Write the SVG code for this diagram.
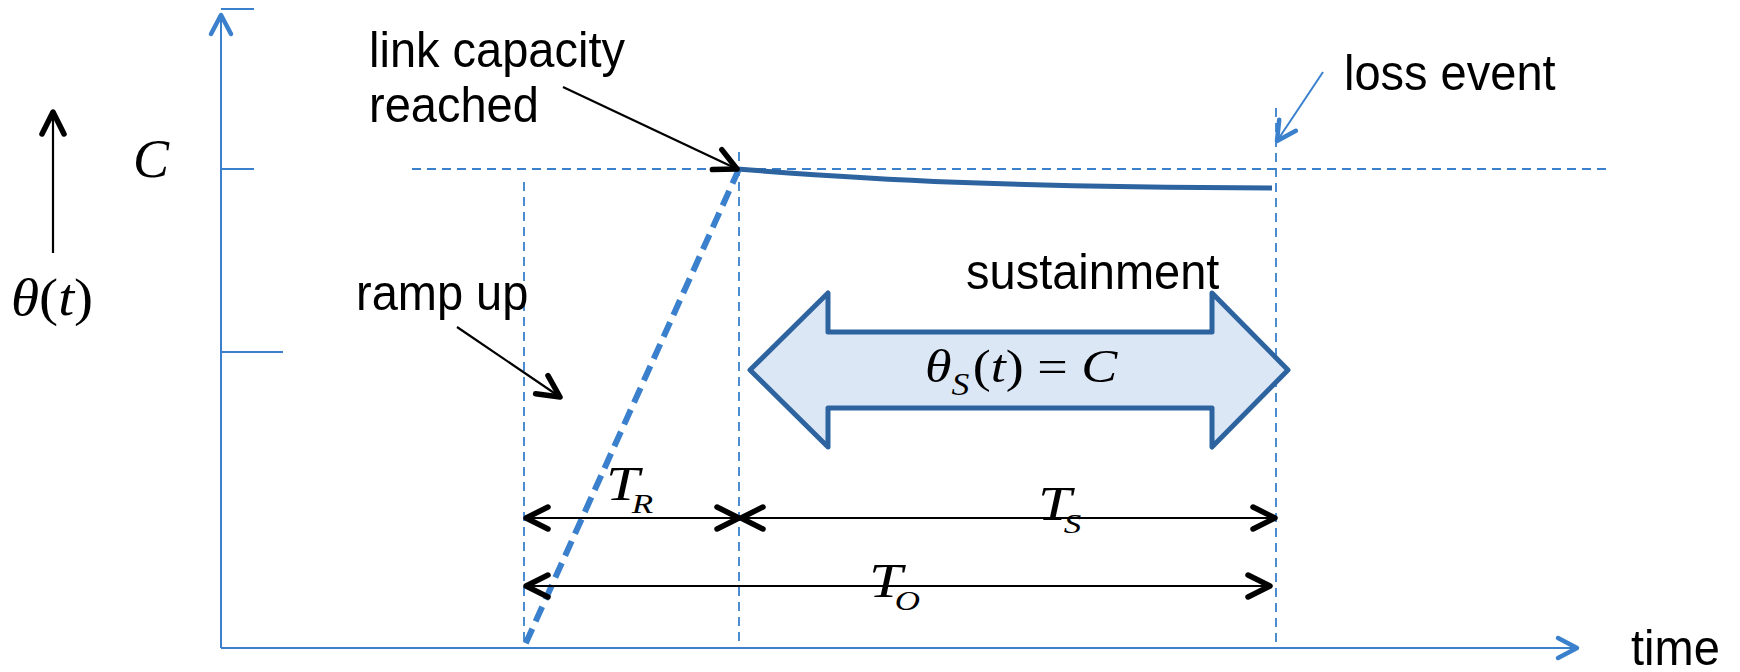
<svg xmlns="http://www.w3.org/2000/svg" width="1740" height="672" viewBox="0 0 1740 672">
<style>
.sans{font-family:"Liberation Sans",Arial,sans-serif;font-size:50px;fill:#000}
.math{font-family:"Liberation Serif","Times New Roman",serif;fill:#000}
.it{font-style:italic}
.axis{stroke:#3A80CC;stroke-width:2;fill:none}
.guide{stroke:#3A80CC;stroke-width:1.8;stroke-dasharray:9 6;fill:none}
.ramp{stroke:#3A80CC;stroke-width:6;stroke-dasharray:16 8;fill:none}
.curve{stroke:#2D64A0;stroke-width:5;fill:none}
.dim{stroke:#000;stroke-width:2.2;fill:none}
.pointer{stroke:#000;stroke-width:2.2;fill:none}
.bluepointer{stroke:#3A80CC;stroke-width:2;fill:none}
.big{fill:#DCE7F5;stroke:#2D64A0;stroke-width:5;stroke-linejoin:round}
</style>
<defs>
<marker id="chevK" markerUnits="userSpaceOnUse" markerWidth="40" markerHeight="40" viewBox="-30 -20 40 40" refX="0" refY="0" orient="auto-start-reverse" overflow="visible">
<path d="M-22,-11 L0,0 L-22,11" fill="none" stroke="#000" stroke-width="5.5" stroke-linecap="round" stroke-linejoin="round"/>
</marker>
<marker id="chevB" markerUnits="userSpaceOnUse" markerWidth="40" markerHeight="40" viewBox="-30 -20 40 40" refX="0" refY="0" orient="auto-start-reverse" overflow="visible">
<path d="M-19,-10 L0,0 L-19,10" fill="none" stroke="#3A80CC" stroke-width="4.5" stroke-linecap="round" stroke-linejoin="round"/>
</marker>
</defs>

<g id="axes">
<path class="axis" d="M221,648 V15" marker-end="url(#chevB)"/>
<path class="axis" d="M221,648 H1577" marker-end="url(#chevB)"/>
<path class="axis" d="M221,9 H254"/>
<path class="axis" d="M221,169 H254"/>
<path class="axis" d="M221,352 H283"/>
</g>

<g id="guides">
<path class="guide" d="M412,169 H1610"/>
<path class="guide" d="M524,182 V648"/>
<path class="guide" d="M739,152 V648"/>
<path class="guide" d="M1276,108 V648"/>
</g>

<g id="ramp-line">
<path class="ramp" d="M739,169 L525,645"/>
</g>

<g id="sustain-curve">
<path class="curve" d="M737,169 C880,180 1000,187 1272,188"/>
</g>

<g id="sustainment-arrow">
<polygon class="big" points="750,370 828,293 828,332 1212,332 1212,293 1288,370 1212,447 1212,408 828,408 828,447"/>
<text class="math" transform="translate(925,382) scale(1.15,1)" font-size="47"><tspan class="it">θ</tspan><tspan class="it" font-size="31" dy="13">S</tspan><tspan dy="-13" dx="3">(</tspan><tspan class="it">t</tspan><tspan>) = </tspan><tspan class="it">C</tspan></text>
</g>

<g id="connectors">
<path class="pointer" d="M53,253 V112" marker-end="url(#chevK)"/>
<path class="pointer" d="M563,87 L737,169" marker-end="url(#chevK)"/>
<path class="pointer" d="M457,327 L560,397" marker-end="url(#chevK)"/>
<path class="bluepointer" d="M1323,72 L1277,141" marker-end="url(#chevB)"/>
<path class="dim" d="M526,518 H739" marker-start="url(#chevK)" marker-end="url(#chevK)"/>
<path class="dim" d="M741,518 H1275" marker-start="url(#chevK)" marker-end="url(#chevK)"/>
<path class="dim" d="M526,586 H1270" marker-start="url(#chevK)" marker-end="url(#chevK)"/>
</g>

<g id="labels">
<text class="math it" x="133" y="177" font-size="54">C</text>
<text class="math" transform="translate(11,315) scale(1.1,1)" font-size="52"><tspan class="it">θ</tspan><tspan>(</tspan><tspan class="it">t</tspan><tspan>)</tspan></text>
<text class="sans" transform="translate(369,67) scale(0.94,1)">link capacity</text>
<text class="sans" transform="translate(369,122) scale(0.94,1)">reached</text>
<text class="sans" transform="translate(1344,90) scale(0.94,1)">loss event</text>
<text class="sans" transform="translate(356,310) scale(0.94,1)">ramp up</text>
<text class="sans" transform="translate(966,289) scale(0.94,1)">sustainment</text>
<text class="sans" transform="translate(1631,665) scale(0.94,1)">time</text>
<text class="math it" transform="translate(606,500) scale(1.25,1)" font-size="48">T<tspan font-size="28" dx="-6" dy="13">R</tspan></text>
<text class="math it" transform="translate(1038,520) scale(1.25,1)" font-size="48">T<tspan font-size="28" dx="-6" dy="13">S</tspan></text>
<text class="math it" transform="translate(869,597) scale(1.25,1)" font-size="48">T<tspan font-size="28" dx="-6" dy="13">O</tspan></text>
</g>
</svg>
